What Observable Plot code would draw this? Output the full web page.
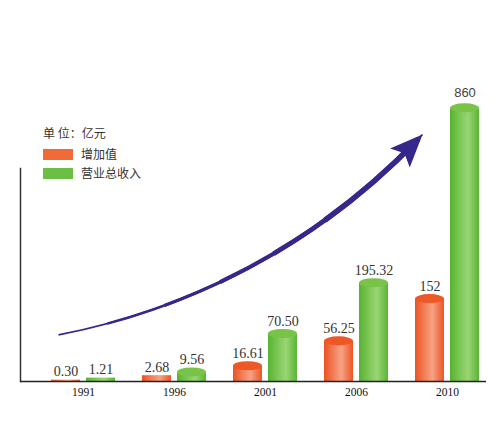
<!DOCTYPE html>
<html><head><meta charset="utf-8">
<script src="https://cdn.jsdelivr.net/npm/d3@7"></script>
<script src="https://cdn.jsdelivr.net/npm/@observablehq/plot@0.6"></script>
<style>
body{margin:0;background:#fff;}
#wrap{position:relative;width:500px;height:427px;overflow:hidden;background:#fff;}
#wrap svg{position:absolute;left:0;top:0;}
.leg{position:absolute;font-family:"Noto Sans CJK SC";font-size:12px;color:#333;line-height:14px;white-space:nowrap;}
.sw{position:absolute;width:30px;height:11px;}
</style></head><body>
<div id="wrap"></div>
<script>
const years = ["1991", "1996", "2001", "2006", "2010"];
const addedValue = [0.30, 2.68, 16.61, 56.25, 152];
const revenue = [1.21, 9.56, 70.50, 195.32, 860];
const addedLabels = ["0.30", "2.68", "16.61", "56.25", "152"];
const revenueLabels = ["1.21", "9.56", "70.50", "195.32", "860"];
const seriesNames = ["增加值", "营业总收入"];
const unitText = "单 位：亿元";
const arrowNote = [{from: "1991", fromValue: 60, to: "2010", toValue: 722}];

const rowsA = years.map((y, i) => ({year: y, value: addedValue[i], label: addedLabels[i]}));
const rowsR = years.map((y, i) => ({year: y, value: revenue[i], label: revenueLabels[i]}));
const big = d => d.value > 5;
const small = d => d.value <= 5;

const defs = () => {
  const g = d3.create("svg:defs");
  const mk = (id, stops) => {
    const lg = g.append("linearGradient").attr("id", id).attr("x1", 0).attr("x2", 1).attr("y1", 0).attr("y2", 0);
    stops.forEach(([o, c]) => lg.append("stop").attr("offset", o).attr("stop-color", c));
  };
  mk("gO", [[0, "#EC5222"], [0.35, "#F2825C"], [0.6, "#F6A284"], [1, "#ED5424"]]);
  mk("gG", [[0, "#58B331"], [0.35, "#7EC757"], [0.62, "#9AD575"], [1, "#5AB434"]]);
  return g.node();
};

const headSymbol = {
  draw(ctx, size) {
    const r = Math.sqrt(size / Math.PI);
    const L = r * 2.5, w = r * 1.05;
    ctx.moveTo(0, 0);
    ctx.lineTo(w, L);
    ctx.lineTo(0, L * 0.8);
    ctx.lineTo(-w, L);
    ctx.closePath();
  }
};

const barW = 35;
const arrowColor = "#35278C";
const arrowBase = {x1: "from", y1: "fromValue", x2: "to", y2: "toValue", bend: -18, dx: -25, stroke: arrowColor, headLength: 0, strokeLinecap: "butt"};
const taper = [[1.6, 0], [2.4, 50], [3.2, 110], [4.0, 170], [4.8, 230], [5.6, 290]];

const chart = Plot.plot({
  width: 500,
  height: 427,
  marginLeft: 20,
  marginRight: 14,
  marginBottom: 46,
  marginTop: 168,
  style: {background: "transparent", overflow: "visible"},
  x: {domain: years, paddingInner: 0.30, paddingOuter: 0.1965, align: 0.807},
  y: {type: "pow", exponent: 0.67, domain: [0, 579], axis: null},
  marks: [
    defs,
    Plot.frame({anchor: "left", stroke: "#333", strokeWidth: 1.5}),
    ...taper.map(([w, s]) => Plot.arrow(arrowNote, {...arrowBase, strokeWidth: w, insetStart: s, insetEnd: s > 0 ? 6 : 0})),
    Plot.dot(arrowNote, {x: "to", y: "toValue", dx: -25, symbol: headSymbol, r: 13, fill: arrowColor, stroke: "none", rotate: 44}),
    Plot.barY(rowsA.filter(small), {x: "year", y: "value", fill: "url(#gO)", insetRight: barW}),
    Plot.barY(rowsA.filter(big), {x: "year", y: "value", fill: "url(#gO)", insetRight: barW, insetTop: 4.5}),
    Plot.barY(rowsA.filter(big), {x: "year", y1: "value", y2: "value", fill: "#EE5726", insetRight: barW, insetBottom: -9, rx: 14.5, ry: 4.5}),
    Plot.barY(rowsR.filter(small), {x: "year", y: "value", fill: "url(#gG)", insetLeft: barW}),
    Plot.barY(rowsR.filter(big), {x: "year", y: "value", fill: "url(#gG)", insetLeft: barW, insetTop: 4.5}),
    Plot.barY(rowsR.filter(big), {x: "year", y1: "value", y2: "value", fill: "#79C448", insetLeft: barW, insetBottom: -9, rx: 14, ry: 4.5}),
    Plot.ruleY([0], {stroke: "#222", strokeWidth: 1.5}),
    Plot.text(rowsA, {x: "year", y: "value", text: "label", dx: -17.5, dy: -4, lineAnchor: "bottom", fontFamily: "Liberation Serif", fontSize: 14, fill: "#333"}),
    Plot.text(rowsR.filter(d => d.value < 500), {x: "year", y: "value", text: "label", dx: 17.5, dy: -4, lineAnchor: "bottom", fontFamily: "Liberation Serif", fontSize: 14, fill: "#333"}),
    Plot.text(rowsR.filter(d => d.value >= 500), {x: "year", y: "value", text: "label", dx: 17.5, dy: -7, lineAnchor: "bottom", fontFamily: "Liberation Sans", fontSize: 13, fill: "#444"}),
    Plot.axisX({tickSize: 0, tickPadding: 6, fontFamily: "Liberation Serif", fontSize: 11.5, label: null, fill: "#111"})
  ]
});

const wrap = document.getElementById("wrap");
wrap.appendChild(chart);

const addDiv = (cls, css, text) => {
  const d = document.createElement("div");
  d.className = cls;
  Object.assign(d.style, css);
  if (text) d.textContent = text;
  wrap.appendChild(d);
};
addDiv("leg", {left: "43px", top: "126px"}, unitText);
addDiv("sw", {left: "43px", top: "149px", background: "#F26A35"});
addDiv("leg", {left: "81px", top: "147px"}, seriesNames[0]);
addDiv("sw", {left: "43px", top: "168px", background: "#6CBF45"});
addDiv("leg", {left: "81px", top: "166px"}, seriesNames[1]);
</script>
</body></html>
